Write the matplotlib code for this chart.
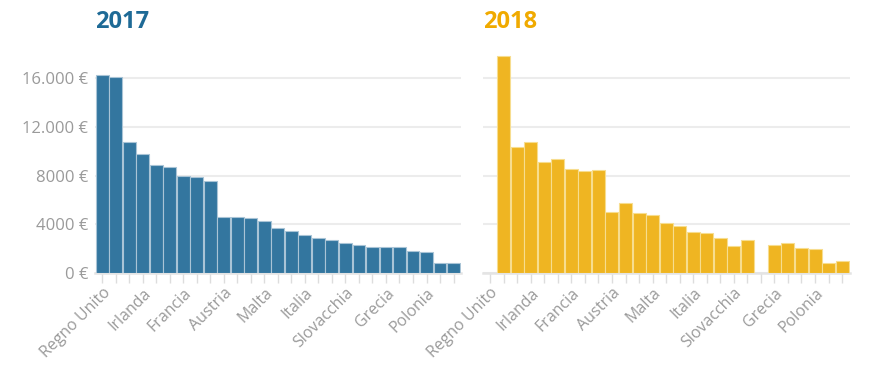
import numpy as np
import matplotlib.pyplot as plt

# Values (euro), same category order in both panels
values_2017 = [16250, 16080, 10760, 9770, 8860, 8670, 7980, 7850, 7550,
               4560, 4560, 4480, 4280, 3650, 3460, 3080, 2860, 2690,
               2470, 2250, 2090, 2090, 2090, 1790, 1680, 770, 770]
values_2018 = [np.nan, 17860, 10370, 10760, 9090, 9360, 8560, 8370, 8450,
               5000, 5760, 4890, 4750, 4090, 3870, 3370, 3270, 2860,
               2170, 2690, np.nan, 2280, 2440, 2060, 1975, 770, 960]
# only every third category is labelled in the reference
shown_labels = ["Regno Unito", "Irlanda", "Francia", "Austria", "Malta",
                "Italia", "Slovacchia", "Grecia", "Polonia"]
y_ticks = [0, 4000, 8000, 12000, 16000]
y_tick_labels = ["0 €", "4000 €", "8000 €", "12.000 €", "16.000 €"]

plt.rcParams['font.family'] = ['Open Sans', 'DejaVu Sans']

fig = plt.figure(figsize=(8.85, 3.78), dpi=100)
ax1 = fig.add_axes([0.1073, 0.2786, 0.414, 0.5785])
ax2 = fig.add_axes([0.5454, 0.2786, 0.415, 0.5785])

panels = [
    (ax1, values_2017, "2017", "#33769f", "#a9c4d6", "#1e6a96"),
    (ax2, values_2018, "2018", "#efb522", "#f7dd8f", "#f0aa00"),
]

n = len(values_2017)
x = np.arange(n)
labels = [""] * n
for i, name in enumerate(shown_labels):
    labels[i * 3] = name

for ax, vals, title, color, edge, title_color in panels:
    ax.bar(x, vals, width=0.96, color=color, edgecolor=edge, linewidth=0.8, zorder=3)
    ax.set_xlim(-0.55, n - 0.42)
    ax.set_ylim(0, 18000)
    ax.set_yticks(y_ticks)
    ax.grid(axis='y', color='#ececec', linewidth=1.5, zorder=0)
    for side in ['top', 'right', 'left']:
        ax.spines[side].set_visible(False)
    ax.spines['bottom'].set_color('#e4e4e4')
    ax.spines['bottom'].set_linewidth(1.8)
    ax.set_xticks(x)
    ax.set_xticklabels(labels, rotation=45, ha='right', va='top',
                       rotation_mode='anchor', fontsize=11.5, color='#9a9a9a')
    ax.tick_params(axis='x', length=7, width=1, color='#dddddd', pad=2)
    ax.tick_params(axis='y', length=0, pad=5, labelsize=12, labelcolor='#9a9a9a')
    ax.text(0.0, 1.146, title, transform=ax.transAxes, fontsize=17,
            fontweight='bold', color=title_color, va='center', ha='left')

ax1.set_yticklabels(y_tick_labels)
ax2.set_yticklabels([])

fig.savefig("out.png", dpi=100)
